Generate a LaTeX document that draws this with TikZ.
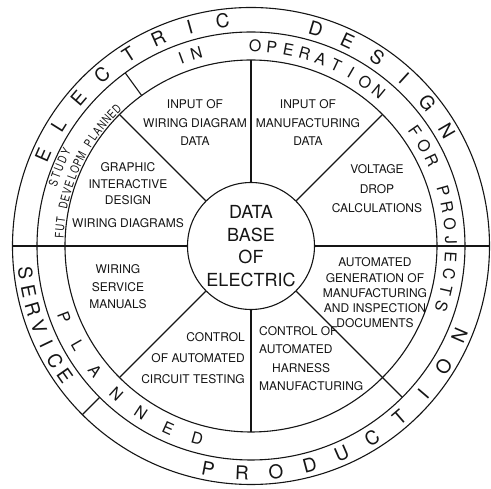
\documentclass[tikz,border=0pt]{standalone}
\usepackage{fontspec}
\setmainfont{TeX Gyre Heros}
\newfontfamily\narrowfont[FakeStretch=0.78]{TeX Gyre Heros}
\definecolor{DiagInk}{HTML}{151515}
\tikzset{
  ringline/.style={draw=DiagInk,line width=1.1pt},
  bigletter/.style={font=\fontsize{19}{19}\selectfont,text=DiagInk,inner sep=0pt},
  midletter/.style={font=\fontsize{16}{16}\selectfont,text=DiagInk,inner sep=0pt},
  smallletter/.style={font=\narrowfont\fontsize{12}{12}\selectfont,text=DiagInk,inner sep=0pt},
  sectortext/.style={align=center,inner sep=0pt,text=DiagInk,font=\fontsize{12}{#1}\selectfont},
  sectortext/.default=17
}
% letters set one by one round an arc: style, name, radius, first angle, step, turn, letters
\newcommand\ringword[7]{\foreach \ch [count=\i from 0] in {#7}{\pgfmathsetmacro\ang{#4+#5*\i}\node[#1,rotate={\ang+(#6)}] (#2\i) at (\ang:#3) {\ch};}}

\begin{document}
\begin{tikzpicture}[x=1pt,y=1pt]
\useasboundingbox (-251,-243) rectangle (240,246);
\foreach \r in {186,214,238.5}{\draw[ringline] (0,0) circle (\r);}
\node[ringline,circle,minimum size=127pt,inner sep=0pt,align=center,text=DiagInk,font=\fontsize{18}{22.7}\selectfont] (core) at (0,0) {DATA\\BASE\\OF\\ELECTRIC};
% spokes
\foreach \a in {45,90,135,225,270}{\draw[ringline] (core.\a) -- (\a:186);}
\draw[ringline] (core.315) -- (315:214);
\draw[ringline] (core.0) -- (0:238.5);
\draw[ringline] (core.180) -- (180:238.5);
\draw[ringline] (126:186) -- (126:214);
\draw[ringline] (225:214) -- (225:238.5);
% sectors
\node[sectortext=18.5] (wirin) at (-56,123) {INPUT OF\\WIRING DIAGRAM\\DATA};
\node[sectortext=18.5] (manin) at (57,123) {INPUT OF\\MANUFACTURING\\DATA};
\node[sectortext=19.5] (volt) at (126,57) {VOLTAGE\\DROP\\CALCULATIONS};
\node[sectortext=15.3] (autogen) at (124,-47) {AUTOMATED\\GENERATION OF\\MANUFACTURING\\AND INSPECTION\\DOCUMENTS};
\node[sectortext=18.3,align=left,anchor=west] (harness) at (8,-112.5) {CONTROL OF\\AUTOMATED\\\hspace*{13pt}HARNESS\\MANUFACTURING};
\node[sectortext=21,align=right,anchor=east] (circtest) at (-6,-112) {CONTROL\\OF AUTOMATED\\CIRCUIT TESTING};
\node[sectortext=17.5] (wserv) at (-133,-41) {WIRING\\SERVICE\\MANUALS};
\node[sectortext=16.5] (graphic) at (-123,51) {GRAPHIC\\INTERACTIVE\\DESIGN\\[6pt]WIRING DIAGRAMS};
% outer ring
\ringword{bigletter}{el}{227}{156.4}{-8.46}{-90}{E,L,E,C,T,R,I,C}
\ringword{bigletter}{de}{227}{73.4}{-8.6}{-90}{D,E,S,I,G,N}
\ringword{bigletter}{se}{227}{186.8}{4.7}{90}{S,E,R,V,I,C,E}
\ringword{bigletter}{pr}{227}{259.1}{8.62}{90}{P,R,O,D,U,C,T,I,O,N}
% middle ring
\ringword{midletter}{in}{200}{110.4}{-4.5}{-90}{I,N}
\ringword{midletter}{op}{200}{88.8}{-4.8}{-90}{O,P,E,R,A,T,I,O,N}
\ringword{midletter}{fo}{200}{34.9}{-4.8}{-90}{F,O,R}
\ringword{midletter}{pj}{200}{15.9}{-4.8}{-90}{P,R,O,J,E,C,T,S}
\ringword{midletter}{pl}{200}{201}{8.9}{90}{P,L,A,N,N,E,D}
\ringword{smallletter}{st}{207.5}{162.3}{-2.3}{-90}{S,T,U,D,Y}
\ringword{smallletter}{fu}{192}{176.7}{-2.23}{-90}{F,U,T}
\ringword{smallletter}{dv}{192}{167.8}{-2.23}{-90}{D,E,V,E,L,O,P,M}
\ringword{smallletter}{pn}{192}{147.7}{-2.23}{-90}{P,L,A,N,N,E,D}
\end{tikzpicture}
\end{document}
